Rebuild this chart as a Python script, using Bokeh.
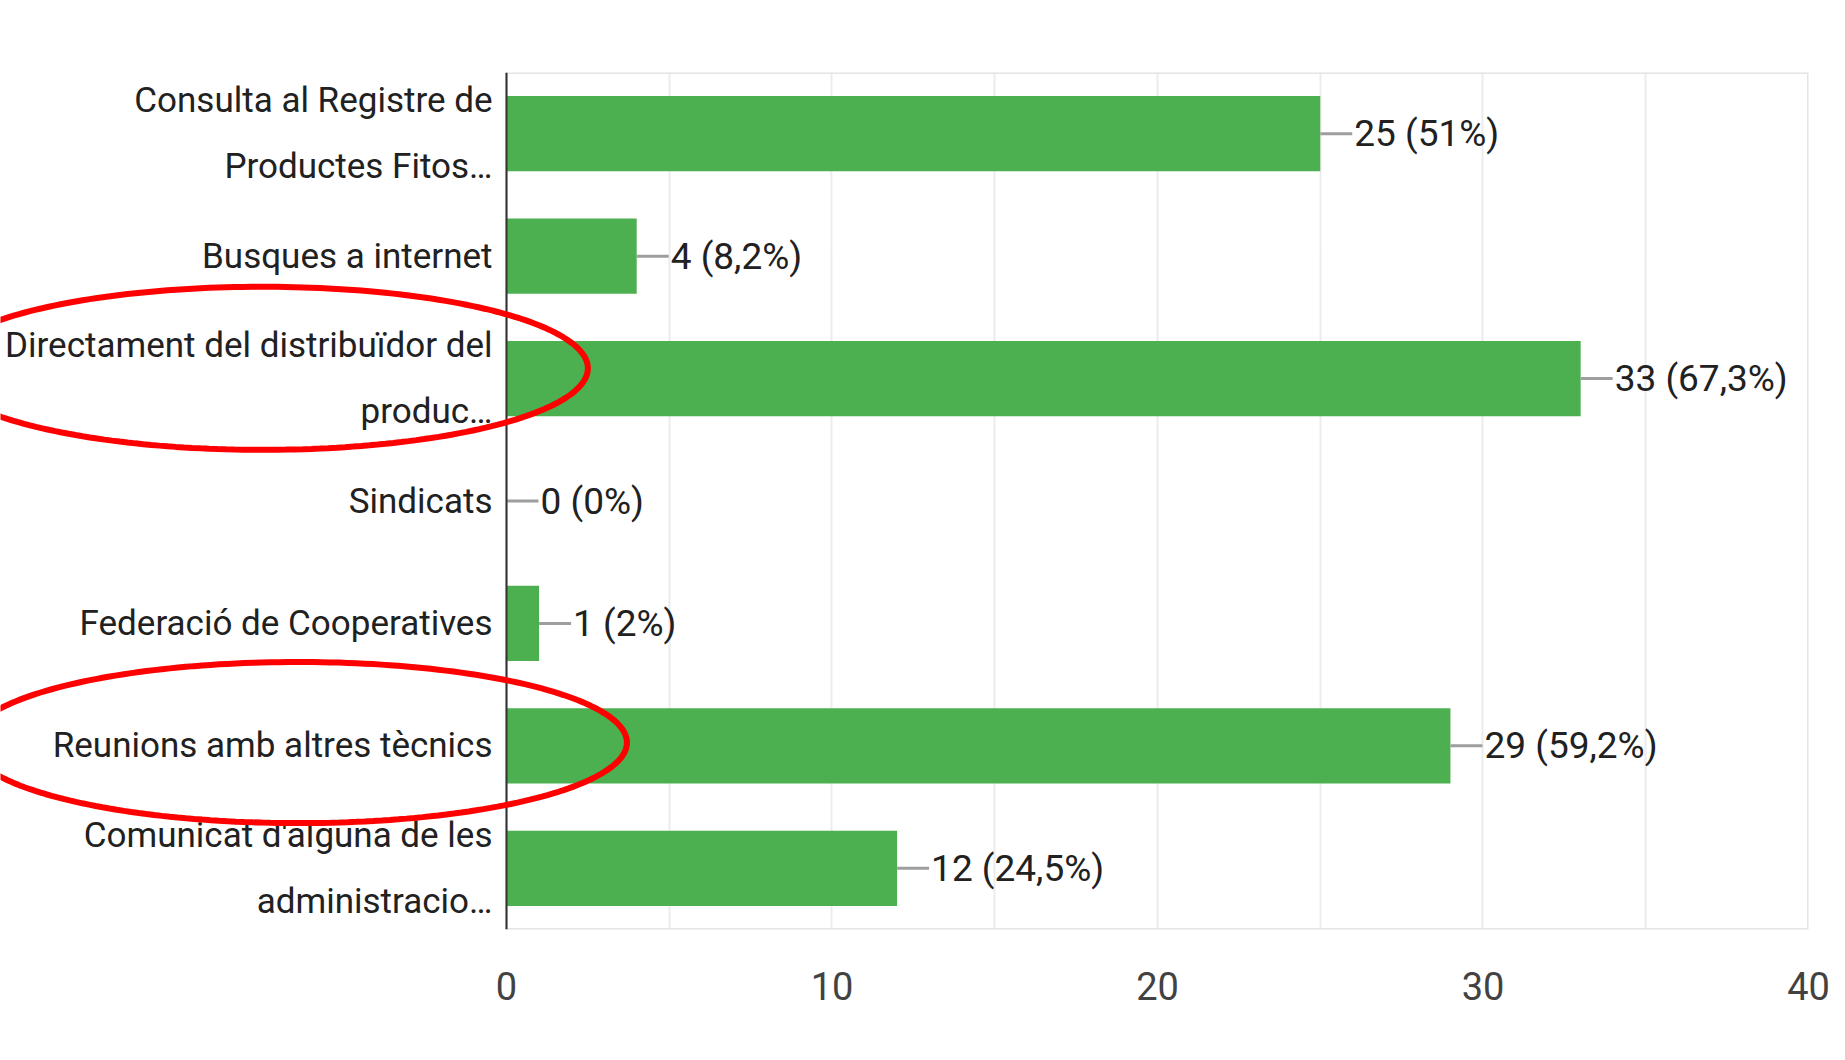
import numpy as np
from bokeh.plotting import figure
from bokeh.models import FactorRange, FixedTicker, PolyAnnotation, BoxAnnotation, ColumnDataSource
from bokeh.core.properties import value
from bokeh.embed import file_html
from bokeh.resources import INLINE

# ---- data (top to bottom as in the chart) ----
categories = [
    "Consulta al Registre de\nProductes Fitos…",
    "Busques a internet",
    "Directament del distribuïdor del\nproduc…",
    "Sindicats",
    "Federació de Cooperatives",
    "Reunions amb altres tècnics",
    "Comunicat d'alguna de les\nadministracio…",
]
counts = [25, 4, 33, 0, 1, 29, 12]
percents = ["51%", "8,2%", "67,3%", "0%", "2%", "59,2%", "24,5%"]
x_ticks = [0, 10, 20, 30, 40]
grid_ticks = [5, 10, 15, 20, 25, 30, 35]
highlighted = ["Directament del distribuïdor del\nproduc…", "Reunions amb altres tècnics"]

FONT = "Roboto"

labels = [f"{c} ({p})" for c, p in zip(counts, percents)]
src = ColumnDataSource(dict(cat=categories, n=counts, label=labels))

factors = list(reversed(categories))
p = figure(
    width=1840, height=1056,
    y_range=FactorRange(factors=factors, range_padding=0),
    x_range=(-15.545, x_ticks[-1]),
    output_backend="svg", toolbar_location=None,
    min_border_left=0, min_border_top=72, min_border_right=32, min_border_bottom=127,
)
p.outline_line_color = None
p.background_fill_color = "white"
p.border_fill_color = "white"

# plot-area frame (light grey border, from 0 to 40)
p.add_layout(BoxAnnotation(left=x_ticks[0], right=x_ticks[-1], fill_alpha=0,
                           line_color="#e4e4e4", line_width=3, line_alpha=1,
                           level="underlay"))

p.hbar(y="cat", right="n", left=0, height=0.615, source=src,
       fill_color="#4caf50", line_color=None)
p.ray(x="n", y="cat", length=32, angle=0, length_units="screen", source=src,
      line_color="#9e9e9e", line_width=3)
p.text(x="n", y="cat", text="label", x_offset=34, source=src,
       text_baseline="middle", text_align="left",
       text_font=value(FONT), text_font_size="37px", text_color="#212121")

# grid
p.ygrid.grid_line_color = None
p.xgrid.ticker = FixedTicker(ticks=grid_ticks)
p.xgrid.grid_line_color = "#ececec"
p.xgrid.grid_line_width = 2

# x axis
xa = p.xaxis[0]
xa.ticker = FixedTicker(ticks=x_ticks)
xa.axis_line_color = None
xa.major_tick_line_color = None
xa.minor_tick_line_color = None
xa.major_label_standoff = 36
xa.major_label_text_font = FONT
xa.major_label_text_font_size = "38px"
xa.major_label_text_color = "#424242"

# y axis, drawn at x = 0 inside the wide frame
ya = p.yaxis[0]
ya.fixed_location = 0
ya.axis_line_color = "#333333"
ya.axis_line_width = 2
ya.major_tick_line_color = None
ya.minor_tick_line_color = None
ya.major_label_standoff = 8
ya.major_label_text_font = FONT
ya.major_label_text_font_size = "35px"
ya.major_label_text_color = "#212121"
ya.major_label_text_line_height = 1.62

# red hand-drawn highlight ellipses
ell_specs = [
    # (category, x centre, x half-width, y offset (bands), y half-height (bands))
    (highlighted[0], -7.5, 10.0, 0.084, 0.666),
    (highlighted[1], -6.4, 10.1, 0.027, 0.658),
]
t = np.linspace(0, 2 * np.pi, 240)
for cat, cx, a, dy, b in ell_specs:
    cy = factors.index(cat) + 0.5 + dy
    xs = (cx + a * np.cos(t)).tolist()
    ys = (cy + b * np.sin(t)).tolist()
    p.add_layout(PolyAnnotation(xs=xs, ys=ys, fill_alpha=0, line_color="#ff0000",
                                line_alpha=1, line_width=6, level="overlay"))

open("out.html", "w").write(file_html(p, INLINE))
